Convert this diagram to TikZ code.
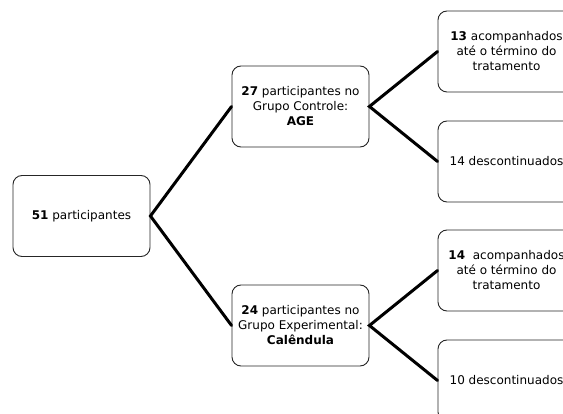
\documentclass[tikz,border=0pt]{standalone}
\usepackage{fontspec}
\setmainfont{DejaVu Sans}
\begin{document}
\begin{tikzpicture}[x=1pt,y=-1pt,
  box/.style={draw=black!85,line width=0.9pt,rounded corners=9pt,minimum width=137pt,minimum height=81pt,
    inner sep=2pt,align=center,font=\fontsize{12}{15}\selectfont},
  link/.style={line width=3pt,line cap=round}]
\useasboundingbox (0,0) rectangle (563,414);
\clip (0,0) rectangle (563,414);
\node[box] (a) at (81.5,216) {\textbf{51} participantes};
\node[box] (b) at (300.5,106.5) {\textbf{27} participantes no\\Grupo Controle:\\\textbf{AGE}};
\node[box] (c) at (300.5,325.5) {\textbf{24} participantes no\\Grupo Experimental:\\\textbf{Calêndula}};
\node[box] (d) at (506.5,51.5) {\textbf{13} acompanhados\\até o término do\\tratamento};
\node[box] (e) at (506.5,161.5) {14 descontinuados};
\node[box] (f) at (506.5,270.5) {\textbf{14}\ \ acompanhados\\até o término do\\tratamento};
\node[box] (g) at (506.5,380.5) {10 descontinuados};
\draw[link] (b.west) -- (a.east) -- (c.west);
\draw[link] (d.west) -- (b.east) -- (e.west);
\draw[link] (f.west) -- (c.east) -- (g.west);
\end{tikzpicture}
\end{document}
